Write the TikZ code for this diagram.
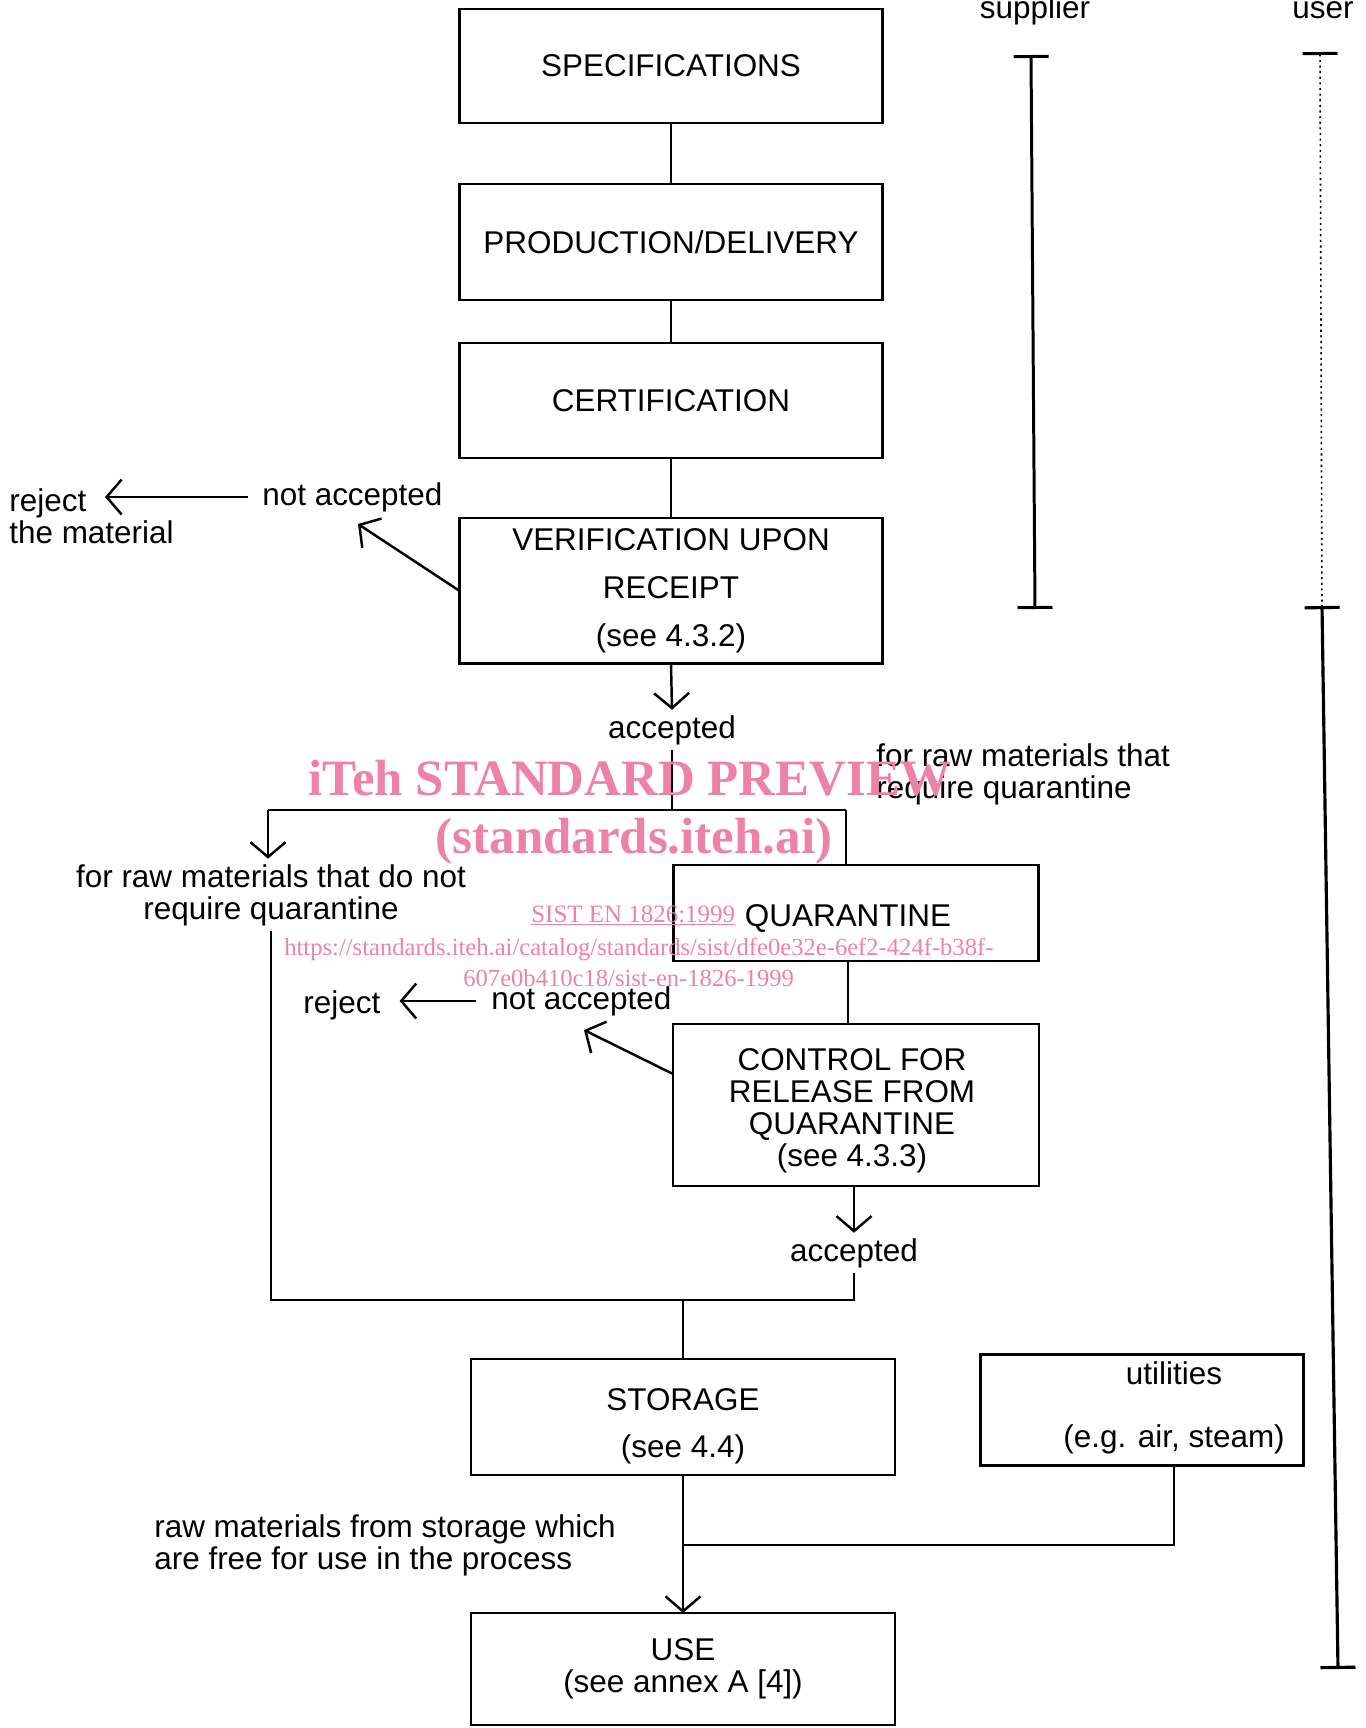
\documentclass[tikz,border=0pt]{standalone}
\usepackage{fontspec}
\setmainfont{Liberation Sans}
\newfontfamily\stampfont{Liberation Serif}
\usetikzlibrary{arrows.meta, positioning, calc}
\definecolor{stamppink}{RGB}{238,130,165}
\tikzset{
  box/.style={rectangle, draw, line width=1.6pt, align=center, inner sep=0pt, outer sep=0pt},
  widebox/.style={box, minimum width=8.46cm, minimum height=2.3cm},
  qbox/.style={box, minimum width=7.3cm},
  boxtxt/.style={inner sep=0pt, align=center},
  lbl/.style={inner sep=0pt, align=left},
  acc/.style={inner sep=3pt},
  conn/.style={line width=1.4pt},
  arr/.style={-{Straight Barb[length=0.3cm, width=0.7cm]}, line width=1.4pt},
  rangebar/.style={line width=1.7pt, {Bar[width=0.7cm]}-{Bar[width=0.7cm]}},
  stamp/.style={text=stamppink, inner sep=0pt, anchor=base},
}

\begin{document}
\begin{tikzpicture}[x=0.02cm, y=-0.02cm, font=\fontsize{17.9}{18.2}\selectfont]
\useasboundingbox (0,0) rectangle (1366,1728);

% supplier side
\node[widebox, minimum height=2.28cm] (spec) at (671,66) {SPECIFICATIONS};
\node[widebox, minimum height=2.32cm, below=1.22cm of spec] (prod) {PRODUCTION/DELIVERY};
\node[widebox, below=0.86cm of prod] (cert) {CERTIFICATION};
\node[widebox, minimum height=2.92cm, below=1.2cm of cert] (verif) {VERIFICATION UPON\\[0.32cm]RECEIPT\\[0.32cm](see 4.3.2)};
\node[acc] (acc1) at (672,730) {accepted};

% quarantine branch
\node[qbox, minimum height=1.92cm] (quar) at (856,913) {};
\node[boxtxt] (quartxt) at (848,918) {QUARANTINE};
\node[qbox, minimum width=7.32cm, minimum height=3.24cm, below=1.26cm of quar] (ctrl) {};
\node[boxtxt] (ctrltxt) at (852,1111) {CONTROL FOR\\RELEASE FROM\\QUARANTINE\\(see 4.3.3)};
\node[acc] (acc2) at (854,1253) {accepted};

% user side
\node[widebox, minimum width=8.48cm, minimum height=2.32cm] (stor) at (683,1417) {};
\node[boxtxt] (stortxt) at (683,1426) {STORAGE\\[0.3cm](see 4.4)};
\node[widebox, minimum width=8.48cm, minimum height=2.24cm, below=2.76cm of stor] (use) {USE\\(see annex A [4])};
\node[box, minimum width=6.46cm, minimum height=2.22cm] (util) at (1142,1410) {};
\node[boxtxt] (utiltxt) at (1174,1408) {utilities\\[0.62cm](e.g. air, steam)};

% labels
\node[lbl, anchor=west] (rej1) at (9,516) {reject\\the material};
\node[lbl, anchor=west] (na1) at (262,497) {not accepted};
\node[acc, align=center] (noq) at (271,895) {for raw materials that do not\\require quarantine};
\node[lbl, anchor=west] (yesq) at (876,774) {for raw materials that\\require quarantine};
\node[lbl, anchor=west] (rej2) at (303,1005) {reject};
\node[lbl, anchor=west] (na2) at (491,1001) {not accepted};
\node[lbl, anchor=west] (free) at (154,1545) {raw materials from storage which\\are free for use in the process};
\node[inner sep=0pt, anchor=base] (supplier) at (1035,18) {supplier};
\node[inner sep=0pt, anchor=base] (user) at (1323,18) {user};

\coordinate (rej1tip) at (105,495);
\coordinate (na1tip) at (358,524);
\coordinate (na2tip) at (584,1030);
\coordinate (splitL) at (268,810);
\coordinate (splitR) at (846,810);
\coordinate (merge) at (854,1300);
\coordinate (utiljoin) at (683,1545);

\draw[conn] (spec) -- (prod);
\draw[conn] (prod) -- (cert);
\draw[conn] (cert) -- (verif);
\draw[arr] (verif.south) -- (acc1.north);
\draw[conn] (acc1.south) -- (acc1.south |- splitL);
\draw[conn] (splitL) -- (splitR);
\draw[arr] (splitL) -- (splitL |- noq.north);
\draw[conn] (splitR) -- (splitR |- quar.north);
\draw[conn] (quartxt |- quar.south) -- (quartxt |- ctrl.north);
\draw[arr] (ctrl.south -| acc2.north) -- (acc2.north);
\draw[conn] (noq.south) |- (merge) -- (acc2.south);
\draw[conn] (stor.north |- merge) -- (stor.north);
\draw[arr] (stor.south) -- (stor.south |- use.north);
\draw[conn] (utiltxt |- util.south) |- (utiljoin);

% rejections
\draw[arr, shorten <=0.28cm] (na1.west) -- (na1.west -| rej1tip);
\draw[arr] (verif.west) -- (na1tip);
\draw[arr, shorten <=0.3cm, shorten >=0.38cm] (na2.west) -- (na2.west -| rej2.east);
\draw[arr] ($(ctrl.west)+(0,-31)$) -- (na2tip);

% responsibility bars
\draw[rangebar] (1031,55) -- (1035,609);
\draw[line width=0.9pt, dash pattern=on 1.2pt off 2pt, {Bar[width=0.7cm, line width=1.7pt]}-] (1320,52) -- (1322,606);
\draw[rangebar, line width=1.8pt] (1322,606) -- (1338,1669);

% stamp
\node[stamp, font=\fontsize{29}{30}\stampfont\bfseries] (stamp1) at (630,795) {iTeh STANDARD PREVIEW};
\node[stamp, font=\fontsize{29}{30}\stampfont\bfseries] (stamp2) at (634,853) {(standards.iteh.ai)};
\node[stamp, anchor=base west, font=\fontsize{14.2}{15}\stampfont] (stamp3) at (531,922) {\underline{SIST EN 1826:1999}};
\node[stamp, anchor=base west, font=\fontsize{14}{15}\stampfont] (stamp4) at (284,955) {https://standards.iteh.ai/catalog/standards/sist/dfe0e32e-6ef2-424f-b38f-};
\node[stamp, anchor=base west, font=\fontsize{14}{15}\stampfont] (stamp5) at (463,986) {607e0b410c18/sist-en-1826-1999};

\end{tikzpicture}
\end{document}
